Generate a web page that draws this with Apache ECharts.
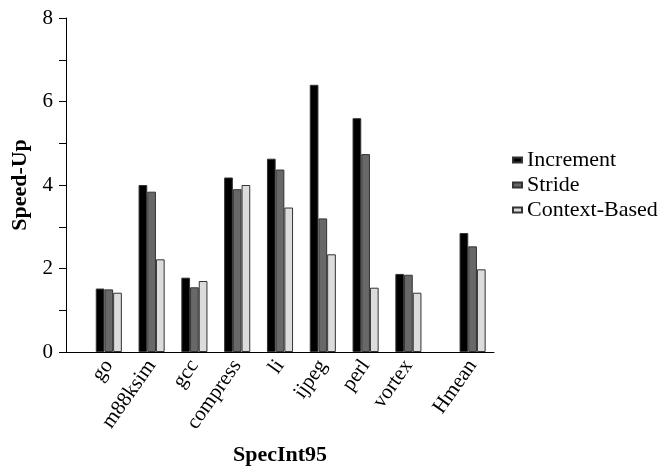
<!DOCTYPE html>
<html>
<head>
<meta charset="utf-8">
<script src="https://cdn.jsdelivr.net/npm/echarts@6/dist/echarts.min.js"></script>
<style>
html,body{margin:0;padding:0;background:#fff;}
#chart{width:669px;height:471px;}
</style>
</head>
<body>
<div id="chart"></div>
<script>
// Data
const benchmarks = ['go', 'm88ksim', 'gcc', 'compress', 'li', 'ijpeg', 'perl', 'vortex'];
const summaryName = 'Hmean';
const increment = [1.52, 4.00, 1.78, 4.18, 4.63, 6.40, 5.60, 1.87];
const stride    = [1.50, 3.84, 1.55, 3.90, 4.37, 3.20, 4.74, 1.85];
const context   = [1.42, 2.22, 1.70, 4.00, 3.46, 2.34, 1.54, 1.42];
const hmeanIncrement = 2.85;
const hmeanStride = 2.53;
const hmeanContext = 1.98;
const yTicks = [0, 2, 4, 6, 8];

// Build half-step slot layout: blank, blank, go, blank, m88ksim, ..., vortex, blank, blank, Hmean, blank
function buildSlots(items, summary, blank) {
  const out = [blank, blank];
  items.forEach(v => { out.push(v); out.push(blank); });
  out.push(blank);
  out.push(summary);
  out.push(blank);
  return out;
}
const categories = buildSlots(benchmarks, summaryName, '');
const incData = buildSlots(increment, hmeanIncrement, '-');
const strData = buildSlots(stride, hmeanStride, '-');
const ctxData = buildSlots(context, hmeanContext, '-');

const FONT = '"Liberation Serif", "Times New Roman", serif';
const chart = echarts.init(document.getElementById('chart'), null, {renderer: 'canvas'});
const barStyle = (c) => ({ color: c, borderColor: '#333', borderWidth: 1 });
chart.setOption({
  animation: false,
  backgroundColor: '#fff',
  grid: { left: 66, right: 175, top: 18, bottom: 118, containLabel: false },
  legend: {
    orient: 'vertical',
    left: 512,
    top: 149,
    itemWidth: 9,
    itemHeight: 5,
    itemGap: 3,
    padding: 0,
    icon: 'rect',
    textStyle: { fontFamily: FONT, fontSize: 22, color: '#000', padding: [0, 0, 0, 0] },
    data: ['Increment', 'Stride', 'Context-Based']
  },
  xAxis: {
    type: 'category',
    data: categories,
    boundaryGap: false,
    name: 'SpecInt95',
    nameLocation: 'middle',
    nameGap: 92,
    nameTextStyle: { fontFamily: FONT, fontSize: 22, fontWeight: 'bold', color: '#000' },
    axisLine: { lineStyle: { color: '#000', width: 1 } },
    axisTick: { show: false },
    axisLabel: { interval: 0, rotate: 55, margin: 10, fontFamily: FONT, fontSize: 21, color: '#000' },
    splitLine: { show: false }
  },
  yAxis: {
    type: 'value',
    min: 0,
    max: 8,
    interval: 1,
    name: 'Speed-Up',
    nameLocation: 'middle',
    nameRotate: 90,
    nameGap: 28,
    nameTextStyle: { fontFamily: FONT, fontSize: 22, fontWeight: 'bold', color: '#000' },
    axisLine: { show: true, lineStyle: { color: '#000', width: 1 } },
    axisTick: { show: true, inside: false, length: 7, lineStyle: { color: '#000' } },
    axisLabel: {
      margin: 13, fontFamily: FONT, fontSize: 21, color: '#000',
      formatter: v => (yTicks.indexOf(v) >= 0 ? String(v) : '')
    },
    splitLine: { show: false }
  },
  series: [
    { name: 'Increment', type: 'bar', data: incData, barWidth: 8.7, barGap: '0%', itemStyle: barStyle('#000') },
    { name: 'Stride', type: 'bar', data: strData, barWidth: 8.7, barGap: '0%', itemStyle: barStyle('#686868') },
    { name: 'Context-Based', type: 'bar', data: ctxData, barWidth: 8.7, barGap: '0%', itemStyle: barStyle('#dcdcdc') }
  ]
});
</script>
</body>
</html>
